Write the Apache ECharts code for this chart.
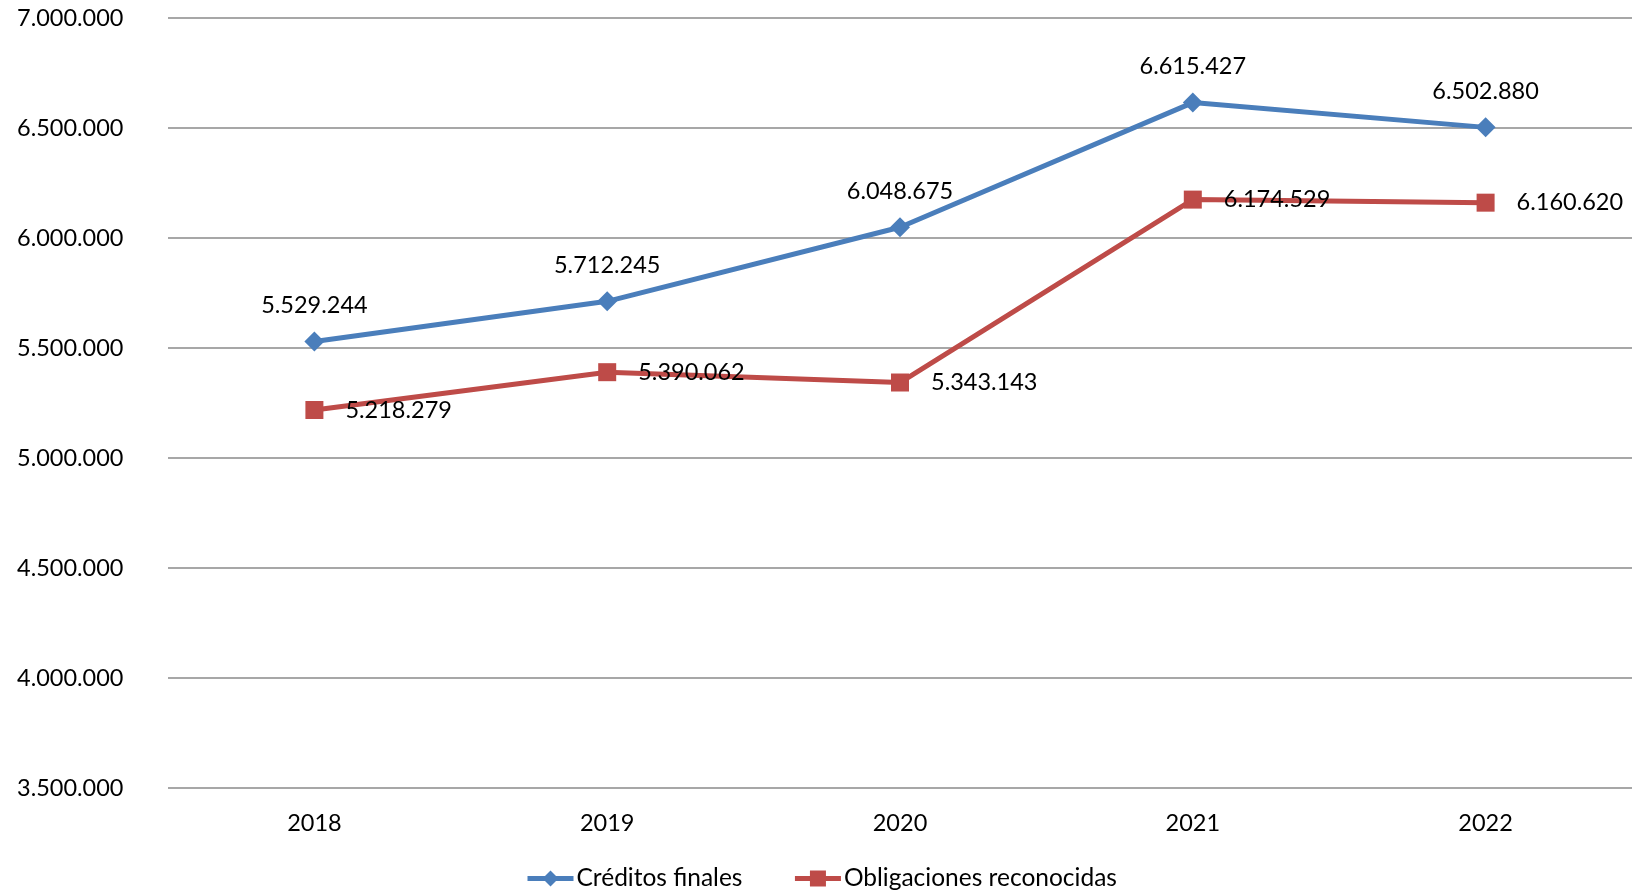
<!DOCTYPE html>
<html><head><meta charset="utf-8">
<script src="https://cdn.jsdelivr.net/npm/echarts@6/dist/echarts.min.js"></script>
<style>html,body{margin:0;padding:0;background:#fff}#c{width:1635px;height:894px}</style>
</head><body><div id="c"></div>
<script>
const categories = ['2018','2019','2020','2021','2022'];
const creditosFinales = [5529244, 5712245, 6048675, 6615427, 6502880];
const obligacionesReconocidas = [5218279, 5390062, 5343143, 6174529, 6160620];
const seriesNames = ['Créditos finales', 'Obligaciones reconocidas'];

function fmt(v){ return String(Math.round(v)).replace(/\B(?=(\d{3})+(?!\d))/g, '.'); }
const FONT = 'Lato';
const chart = echarts.init(document.getElementById('c'));
chart.setOption({
  animation:false,
  textStyle:{fontFamily:FONT},
  grid:{left:168, right:3, top:18, bottom:106, containLabel:false},
  legend:{
    bottom:-2, left:520, itemWidth:46, itemHeight:20, itemGap:50,
    lineStyle:{width:5},
    textStyle:{fontFamily:FONT, fontSize:24.5, color:'#000', padding:[0,0,0,-2]},
    data:seriesNames
  },
  xAxis:{
    type:'category', data:categories, boundaryGap:true,
    axisLine:{show:false}, axisTick:{show:false},
    axisLabel:{fontFamily:FONT, fontSize:23.5, color:'#000', margin:23}
  },
  yAxis:{
    type:'value', min:3500000, max:7000000, interval:500000,
    axisLine:{show:false}, axisTick:{show:false},
    splitLine:{lineStyle:{color:'#8a8a8a', width:1.5}},
    axisLabel:{fontFamily:FONT, fontSize:23.5, color:'#000', align:'left', margin:151, formatter:fmt}
  },
  series:[
    {name:seriesNames[0], type:'line', data:creditosFinales,
     symbol:'diamond', symbolSize:20, lineStyle:{width:5, color:'#4A7EBB'}, itemStyle:{color:'#4A7EBB'},
     label:{show:true, position:'top', distance:14, fontFamily:FONT, fontSize:23.5, color:'#000', formatter:p=>fmt(p.value)}},
    {name:seriesNames[1], type:'line', data:obligacionesReconocidas,
     symbol:'rect', symbolSize:18, lineStyle:{width:5, color:'#BE4B48'}, itemStyle:{color:'#BE4B48'},
     label:{show:true, position:'right', distance:22, fontFamily:FONT, fontSize:23.5, color:'#000', formatter:p=>fmt(p.value)}}
  ]
});
</script></body></html>
